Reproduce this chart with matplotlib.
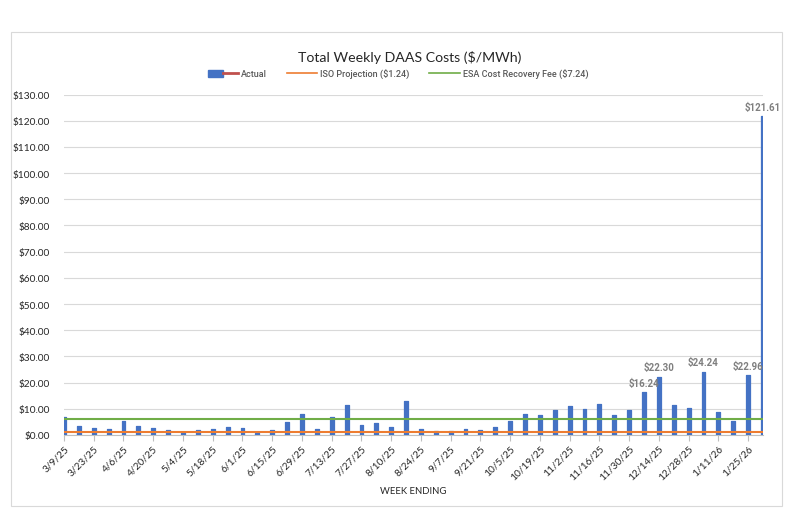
import matplotlib.pyplot as plt
import matplotlib.patches as patches
from matplotlib.lines import Line2D
from matplotlib.legend_handler import HandlerTuple
import numpy as np

plt.rcParams['font.family'] = ['Lato', 'DejaVu Sans']

weeks = ["3/9/25", "3/16/25", "3/23/25", "3/30/25", "4/6/25", "4/13/25", "4/20/25", "4/27/25",
         "5/4/25", "5/11/25", "5/18/25", "5/25/25", "6/1/25", "6/8/25", "6/15/25", "6/22/25",
         "6/29/25", "7/6/25", "7/13/25", "7/20/25", "7/27/25", "8/3/25", "8/10/25", "8/17/25",
         "8/24/25", "8/31/25", "9/7/25", "9/14/25", "9/21/25", "9/28/25", "10/5/25", "10/12/25",
         "10/19/25", "10/26/25", "11/2/25", "11/9/25", "11/16/25", "11/23/25", "11/30/25", "12/7/25",
         "12/14/25", "12/21/25", "12/28/25", "1/4/26", "1/11/26", "1/18/26", "1/25/26", "2/1/26"]

actual = [7.0, 3.5, 2.8, 2.1, 5.2, 3.5, 2.7, 1.9, 1.3, 1.9, 2.1, 3.1,
          2.7, 0.7, 1.9, 4.9, 8.2, 2.1, 6.7, 11.3, 3.9, 4.6, 3.1, 12.8,
          2.2, 1.7, 1.6, 2.1, 1.8, 3.1, 5.3, 8.2, 7.6, 9.6, 10.9, 10.0,
          11.8, 7.8, 9.4, 16.24, 22.30, 11.5, 10.4, 24.24, 8.6, 5.3, 22.96, 121.61]

iso_projection = 1.24
esa_line = 6.0  # where the green line sits in the picture
labeled = [39, 40, 43, 46, 47]

x = np.arange(len(weeks))

fig = plt.figure(figsize=(7.89, 5.10), dpi=100)
fig.patches.append(patches.Rectangle((11 / 789, 3 / 510), 771 / 789, 474 / 510,
                                     transform=fig.transFigure, fill=False,
                                     edgecolor='#d9d9d9', linewidth=0.8))

ax = fig.add_axes([64 / 789, 74 / 510, 699 / 789, 340.5 / 510])

ax.bar(x, actual, width=0.26, color='#4472C4', edgecolor='#4472C4',
       linewidth=0.9, joinstyle='round', zorder=3)
ax.plot([0, len(weeks) - 1], [iso_projection] * 2, color='#ED7D31', linewidth=1.5, zorder=4)
ax.plot([0, len(weeks) - 1], [esa_line] * 2, color='#70AD47', linewidth=1.5, zorder=4)

for i in labeled:
    ax.annotate(f"${actual[i]:.2f}", (x[i], actual[i]), xytext=(0, 3),
                textcoords='offset points', ha='center', va='bottom',
                fontsize=7, fontweight='bold', family=['Roboto', 'DejaVu Sans'],
                color='#7f7f7f', zorder=5, annotation_clip=False)

ax.set_xlim(0, len(weeks) - 1)
ax.set_ylim(0, 130)
ax.set_yticks(np.arange(0, 131, 10))
ax.set_yticklabels([f"${v:.2f}" for v in np.arange(0, 131, 10)])
ax.set_xticks(x[::2])
ax.set_xticklabels(weeks[::2], rotation=45, ha='right', rotation_mode='anchor')

ax.grid(axis='y', color='#d9d9d9', linewidth=0.8, zorder=0)
for side in ['top', 'right', 'left']:
    ax.spines[side].set_visible(False)
ax.spines['bottom'].set_color('#bfbfbf')
ax.tick_params(axis='y', length=0, labelsize=7.3, labelcolor='#262626', pad=10)
ax.tick_params(axis='x', length=4, color='#bfbfbf', labelsize=7.3, labelcolor='#262626', pad=2)

ax.set_xlabel("WEEK ENDING", fontsize=6.8, color='#262626', labelpad=3)
fig.text(410 / 789, 1 - 57 / 510, "Total Weekly DAAS Costs ($/MWh)", ha='center',
         va='center', fontsize=10.2, color='#262626')

actual_handle = (patches.Patch(facecolor='#4472C4', edgecolor='#4472C4'),
                 Line2D([], [], color='#C0504D', linewidth=2))
handles = [actual_handle,
           Line2D([], [], color='#ED7D31', linewidth=1.2),
           Line2D([], [], color='#70AD47', linewidth=1.2)]
labels = ['Actual', 'ISO Projection ($1.24)', 'ESA Cost Recovery Fee ($7.24)']
ax.legend(handles, labels, handler_map={tuple: HandlerTuple(ndivide=None, pad=0)},
          loc='center', bbox_to_anchor=((398 - 64) / 699, 1 + (96 - 75) / 340.5), ncol=3,
          frameon=False, handlelength=3.4, handleheight=0.9, columnspacing=2.2,
          handletextpad=0.3, labelcolor='#595959',
          prop={'family': ['Roboto', 'DejaVu Sans'], 'weight': 'medium', 'size': 6.5})

fig.savefig("out.png", dpi=100)
